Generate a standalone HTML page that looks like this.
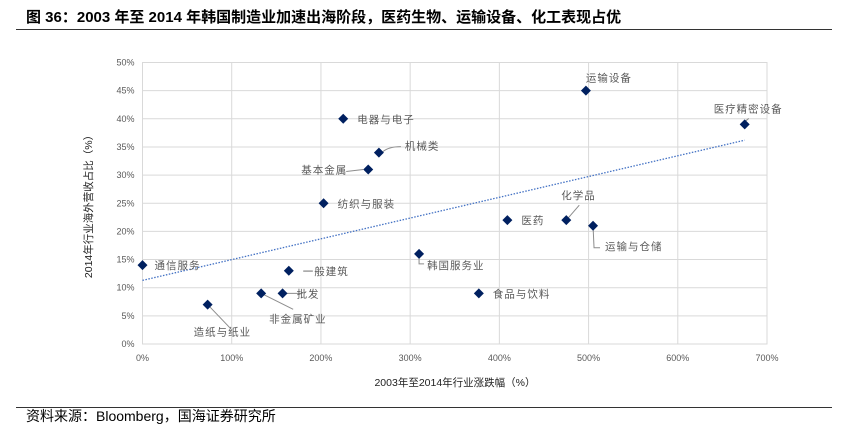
<!DOCTYPE html>
<html><head><meta charset="utf-8"><style>
body{margin:0;background:#fff;}
svg{display:block;font-family:"Liberation Sans","Noto Sans CJK SC",sans-serif;}
</style></head><body>
<svg id="chart" width="847" height="424" viewBox="0 0 847 424">
<text x="26" y="22" font-size="15" font-weight="bold" fill="#000">图 36：2003 年至 2014 年韩国制造业加速出海阶段，医药生物、运输设备、化工表现占优</text>
<line x1="16" y1="29.5" x2="832" y2="29.5" stroke="#333" stroke-width="1"/>
<g id="grid"></g>
<g id="trend"></g>
<g id="points"></g>
<text x="455" y="386" font-size="10.5" fill="#222" text-anchor="middle">2003年至2014年行业涨跌幅（%）</text>
<text transform="translate(92,204) rotate(-90)" font-size="10.5" fill="#222" text-anchor="middle">2014年行业海外营收占比（%）</text>
<line x1="16" y1="407.5" x2="832" y2="407.5" stroke="#333" stroke-width="1"/>
<text x="26" y="421" font-size="14" fill="#000">资料来源：Bloomberg，国海证券研究所</text>
</svg>
<script>
const categories=["通信服务","造纸与纸业","非金属矿业","批发","一般建筑","纺织与服装","电器与电子","基本金属","机械类","韩国服务业","食品与饮料","医药","化学品","运输设备","运输与仓储","医疗精密设备"];
const growthPct=[0,73,133,157,164,203,225,253,265,310,377,409,475,497,505,675];
const overseasPct=[14,7,9,9,13,25,40,31,34,16,9,22,22,45,21,39];
const xTicks=[0,100,200,300,400,500,600,700];
const yTicks=[0,5,10,15,20,25,30,35,40,45,50];
const trendX=[0,675];
const trendY=[11.3,36.2];

const NS="http://www.w3.org/2000/svg";
const X0=142.5,X1=767,Y0=344,Y1=62.5;
const xs=v=>X0+(v/700)*(X1-X0);
const ys=v=>Y0-(v/50)*(Y0-Y1);
function mk(tag,attrs,parent){const e=document.createElementNS(NS,tag);for(const k in attrs)e.setAttribute(k,attrs[k]);parent.appendChild(e);return e;}
const grid=document.getElementById('grid');
yTicks.forEach(t=>{
  const l=mk('line',{x1:X0,x2:X1,y1:ys(t),y2:ys(t),stroke:'#d9d9d9','stroke-width':1},grid);
  
  
  const tx=mk('text',{x:X0-8,y:ys(t)+3,'font-size':9,fill:'#595959','text-anchor':'end'},grid);
  tx.textContent=t+'%';
  
  
});
xTicks.forEach(t=>{
  const l=mk('line',{x1:xs(t),x2:xs(t),y1:Y1,y2:Y0,stroke:'#d9d9d9','stroke-width':1},grid);
  
  
  const tx=mk('text',{x:xs(t),y:Y0+17,'font-size':9,fill:'#595959','text-anchor':'middle'},grid);
  tx.textContent=t+'%';
  
  
});
const tr=mk('line',{x1:xs(trendX[0]),y1:ys(trendY[0]),x2:xs(trendX[1]),y2:ys(trendY[1]),stroke:'#4472c4','stroke-width':1.3,'stroke-dasharray':'1.5 1.5'},document.getElementById('trend'));


// label offsets [dx,dy,anchor] and optional leader path relative to point
const lab=[[12,4,'start'],[-14,31,'start'],[8,29,'start'],[14,4,'start'],[14,4,'start'],[14,4,'start'],[14,4,'start'],[-67,4,'start'],[26,-3,'start'],[8,15,'start'],[14,4,'start'],[14,4,'start'],[-5,-21,'start'],[0,-9,'start'],[12,24,'start'],[-31,-12,'start']];
const leaders=[null,"M0 0L23 24","M0 0L32 16","M0 0L20 0","","","","M-22 2L-5 0","M4 -1Q10 -6 22 -6","M0 0L0 10L5 10","","","M0 0L13 -15","","M0 0L1 22L7 22","M-2 -1L4 -6"];
const pts=document.getElementById('points');
categories.forEach((c,i)=>{
  const cx=xs(growthPct[i]),cy=ys(overseasPct[i]);
  if(leaders[i]){
    const lp=mk('path',{d:leaders[i],transform:`translate(${cx},${cy})`,fill:'none',stroke:'#8c8c8c','stroke-width':1},pts);
    
    
  }
  const d=mk('path',{d:`M${cx} ${cy-5}L${cx+5} ${cy}L${cx} ${cy+5}L${cx-5} ${cy}Z`,fill:'#002060'},pts);
  
  
  const o=lab[i];
  const t=mk('text',{x:cx+o[0],y:cy+o[1],'font-size':10.5,fill:'#595959','text-anchor':o[2],'letter-spacing':'1'},pts);
  t.textContent=c;
  
  
});
const fr=mk('rect',{x:X0,y:Y1,width:X1-X0,height:Y0-Y1,fill:'none',stroke:'#d9d9d9','stroke-width':1},grid);


</script>
</body></html>
